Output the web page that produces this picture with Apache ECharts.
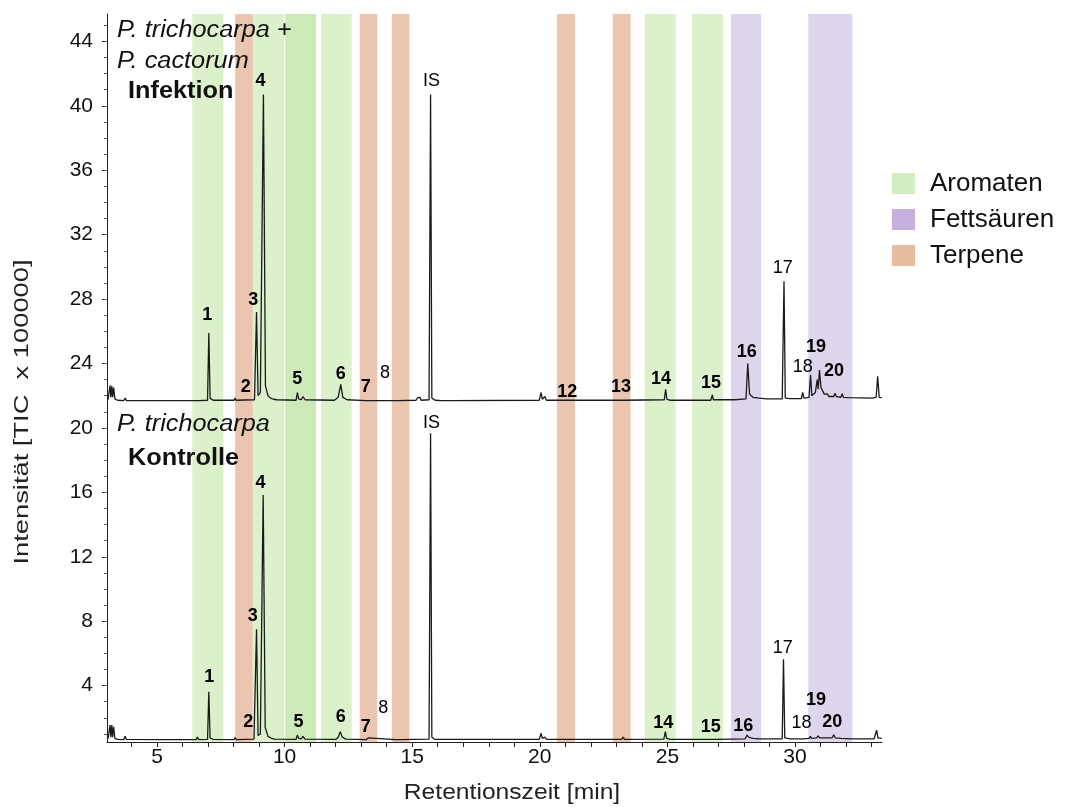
<!DOCTYPE html>
<html>
<head>
<meta charset="utf-8">
<title>GC-MS Chromatogramme</title>
<script src="https://cdn.jsdelivr.net/npm/echarts@6/dist/echarts.min.js"></script>
<style>
  html, body { margin: 0; padding: 0; background: #fff; }
  #chart { width: 1068px; height: 810px; }
</style>
</head>
<body>
<div id="chart"></div>
<script>
// Retention-time windows of the compound classes [start, end] in min
const aromatenBands = [[6.38, 7.6], [8.75, 9.99], [11.43, 12.63], [24.11, 25.32], [25.96, 27.18]];
const aromatenBandsDark = [[10.03, 11.23]];
const terpeneBands = [[8.06, 8.75], [12.94, 13.63], [14.2, 14.89], [20.67, 21.38], [22.86, 23.56]];
const fettsaeurenBands = [[27.49, 28.67], [30.52, 32.25]];

// Infected sample (P. trichocarpa + P. cactorum), plotted above the control: [time, intensity]
const infektionTrace = [
  [3.08, 21.75], [3.13, 21.8], [3.16, 22.65], [3.19, 21.9], [3.23, 22.6], [3.26, 21.9], [3.3, 22.5], [3.35, 21.8], [3.45, 21.72],
  [3.7, 21.7], [3.75, 21.85], [3.8, 21.7],
  [5.2, 21.7], [5.24, 21.8], [5.28, 21.7],
  [6.55, 21.7], [6.6, 21.78], [6.65, 21.7],
  [6.98, 21.72], [7.03, 25.9], [7.08, 21.85], [7.2, 21.72],
  [8.02, 21.72], [8.06, 21.85], [8.1, 21.72],
  [8.82, 21.75], [8.9, 27.2], [8.96, 22.0], [9.05, 22.2], [9.17, 40.7], [9.25, 22.6], [9.35, 22.0], [9.45, 21.85], [9.5, 21.95], [9.56, 21.78], [9.7, 21.75],
  [10.45, 21.72], [10.5, 22.2], [10.55, 21.8], [10.65, 21.75], [10.72, 21.95], [10.8, 21.75],
  [11.95, 21.72], [12.1, 21.9], [12.2, 22.7], [12.28, 21.9], [12.45, 21.75],
  [13.2, 21.7], [13.25, 21.82], [13.3, 21.7],
  [14.35, 21.7], [14.4, 21.8], [14.45, 21.7],
  [15.15, 21.72], [15.22, 21.88], [15.27, 21.8], [15.3, 21.9], [15.35, 21.72],
  [15.66, 21.75], [15.72, 40.7], [15.77, 21.85], [15.9, 21.72],
  [16.15, 21.7], [16.2, 21.8], [16.25, 21.7], [16.5, 21.7], [16.55, 21.8], [16.6, 21.7],
  [19.98, 21.72], [20.05, 22.2], [20.1, 21.78], [20.2, 21.95], [20.26, 21.72],
  [23.2, 21.72], [23.26, 21.83], [23.3, 21.72],
  [24.88, 21.75], [24.93, 22.4], [24.98, 21.78], [25.1, 21.72],
  [26.7, 21.72], [26.76, 22.05], [26.8, 21.75],
  [27.55, 21.75], [27.6, 21.85], [27.65, 21.75],
  [28.08, 21.8], [28.15, 24.0], [28.22, 22.1], [28.35, 21.9], [28.6, 21.85], [28.9, 21.8],
  [29.5, 21.8], [29.57, 29.1], [29.62, 21.85], [29.8, 21.82],
  [30.25, 21.82], [30.3, 22.2], [30.35, 21.85],
  [30.55, 21.9], [30.61, 23.3], [30.66, 22.0], [30.8, 22.2], [30.87, 23.0], [30.91, 22.4], [30.96, 23.6], [31.02, 22.5], [31.15, 22.1],
  [31.22, 21.98], [31.27, 22.12], [31.32, 21.95], [31.52, 21.95], [31.57, 22.15], [31.62, 21.95], [31.8, 21.9], [31.85, 22.12], [31.9, 21.9],
  [32.1, 21.88], [33.0, 21.85], [33.18, 21.9], [33.24, 23.2], [33.3, 21.9], [33.4, 21.88]
];

// Control sample (P. trichocarpa): [time, intensity]
const kontrolleTrace = [
  [3.08, 0.7], [3.13, 0.75], [3.16, 1.55], [3.19, 0.8], [3.23, 1.55], [3.26, 0.8], [3.3, 1.45], [3.35, 0.72], [3.45, 0.66],
  [3.7, 0.65], [3.75, 0.85], [3.8, 0.66],
  [5.2, 0.65], [5.24, 0.75], [5.28, 0.65],
  [6.53, 0.65], [6.58, 0.8], [6.63, 0.65],
  [6.98, 0.66], [7.03, 3.62], [7.08, 0.75], [7.2, 0.66],
  [8.02, 0.65], [8.06, 0.78], [8.1, 0.65],
  [8.8, 0.68], [8.9, 7.5], [8.96, 0.9], [9.05, 1.0], [9.16, 15.84], [9.24, 1.4], [9.35, 0.85], [9.5, 0.72], [9.55, 0.8], [9.6, 0.68],
  [10.45, 0.66], [10.5, 0.93], [10.56, 0.72], [10.65, 0.7], [10.72, 0.85], [10.8, 0.68],
  [12.0, 0.66], [12.1, 0.8], [12.18, 1.14], [12.26, 0.8], [12.4, 0.68],
  [13.2, 0.65], [13.28, 0.75], [13.35, 0.65],
  [14.35, 0.65], [14.42, 0.72], [14.5, 0.65],
  [15.66, 0.68], [15.72, 19.67], [15.77, 0.8], [15.9, 0.66],
  [16.1, 0.66], [16.15, 0.75], [16.2, 0.66], [16.4, 0.66], [16.45, 0.74], [16.5, 0.66],
  [19.98, 0.66], [20.05, 1.04], [20.1, 0.72], [20.2, 0.8], [20.26, 0.66],
  [23.2, 0.66], [23.27, 0.8], [23.32, 0.66],
  [24.86, 0.68], [24.92, 1.14], [24.97, 0.72], [25.1, 0.66],
  [26.3, 0.66], [26.35, 0.75], [26.4, 0.66], [26.7, 0.66], [26.75, 0.78], [26.8, 0.66],
  [27.5, 0.68], [27.55, 0.75], [27.6, 0.68],
  [28.05, 0.7], [28.12, 0.93], [28.2, 0.78], [28.35, 0.72], [28.6, 0.7],
  [29.5, 0.7], [29.55, 5.63], [29.6, 0.75], [29.8, 0.7],
  [30.22, 0.7], [30.27, 0.8], [30.32, 0.7], [30.55, 0.72], [30.6, 0.85], [30.65, 0.72], [30.85, 0.75], [30.9, 0.88], [30.97, 0.75],
  [31.45, 0.75], [31.52, 0.95], [31.58, 0.75], [31.7, 0.74], [31.75, 0.82], [31.8, 0.72], [32.2, 0.7],
  [33.1, 0.7], [33.15, 0.75], [33.2, 1.24], [33.25, 0.75], [33.4, 0.72]
];

// Peak annotations: [time, intensity, text, bold]
const infektionPeakLabels = [
  [6.97, 27.02, '1', true], [8.48, 22.53, '2', true], [8.77, 27.95, '3', true], [9.06, 41.51, '4', true],
  [10.50, 23.04, '5', true], [12.20, 23.35, '6', true], [13.18, 22.57, '7', true], [13.93, 23.40, '8', false],
  [15.76, 41.51, 'IS', false], [21.08, 22.25, '12', true], [23.18, 22.57, '13', true], [24.75, 23.04, '14', true],
  [26.71, 22.81, '15', true], [28.11, 24.74, '16', true], [29.52, 29.92, '17', false], [30.30, 23.77, '18', false],
  [30.82, 25.05, '19', true], [31.53, 23.56, '20', true]
];
const kontrollePeakLabels = [
  [7.05, 4.55, '1', true], [8.58, 1.72, '2', true], [8.75, 8.32, '3', true], [9.06, 16.60, '4', true],
  [10.54, 1.72, '5', true], [12.20, 2.07, '6', true], [13.18, 1.41, '7', true], [13.87, 2.59, '8', false],
  [15.76, 20.29, 'IS', false], [24.84, 1.66, '14', true], [26.70, 1.45, '15', true], [27.97, 1.49, '16', true],
  [29.52, 6.32, '17', false], [30.26, 1.66, '18', false], [30.82, 3.11, '19', true], [31.46, 1.76, '20', true]
];

// Axis ticks and labels
const xTickLabels = [5, 10, 15, 20, 25, 30];
const xTicks = [4, 5, 6, 7, 8, 9, 10, 11, 12, 13, 14, 15, 16, 17, 18, 19, 20, 21, 22, 23, 24, 25, 26, 27, 28, 29, 30, 31, 32, 33];
const yTickLabels = [4, 8, 12, 16, 20, 24, 28, 32, 36, 40, 44];
const yMinorTicks = [1, 2, 3, 4, 5, 6, 7, 8, 9, 10, 11, 12, 13, 14, 15, 16, 17, 18, 19, 20, 21, 22, 23, 24, 25, 26, 27, 28, 29, 30,
  31, 32, 33, 34, 35, 36, 37, 38, 39, 40, 41, 42, 43, 44, 45];

const FONT = '"Liberation Sans", Arial, Helvetica, sans-serif';
const colors = {
  aromaten: '#d3edc3', aromatenBand: '#dbf0cb', aromatenBandDark: '#cde9b8',
  fett: '#c6b1de', fettBand: '#ddd5eb',
  terp: '#e8bc9f', terpBand: '#eac6b0'
};

function bandAreas(list, color) {
  return list.map(b => [{ xAxis: b[0], itemStyle: { color: color } }, { xAxis: b[1] }]);
}
function labelItems(list) {
  return list.map(l => ({
    value: [l[0], l[1]],
    name: l[2],
    label: { fontWeight: l[3] ? 'bold' : 'normal', fontSize: 18 }
  }));
}

const chart = echarts.init(document.getElementById('chart'), null, { renderer: 'canvas' });

const option = {
  animation: false,
  backgroundColor: '#ffffff',
  grid: { left: 107, right: 186, top: 14, bottom: 68, containLabel: false },
  legend: {
    data: ['Aromaten', 'Fettsäuren', 'Terpene'],
    orient: 'vertical',
    left: 892,
    top: 170,
    padding: 0,
    icon: 'rect',
    itemWidth: 23,
    itemHeight: 21,
    itemGap: 9,
    selectedMode: false,
    textStyle: { fontSize: 26, color: '#111', fontFamily: FONT, lineHeight: 27, padding: [0, 0, 0, 10] }
  },
  xAxis: {
    type: 'value',
    min: 3.04,
    max: 33.41,
    splitLine: { show: false },
    axisLine: { lineStyle: { color: '#222', width: 1 } },
    axisTick: { show: true, customValues: xTicks, length: 5, lineStyle: { color: '#222' } },
    axisLabel: { customValues: xTickLabels, fontSize: 21, color: '#111', fontFamily: FONT, margin: 5 }
  },
  yAxis: [
    {
      type: 'value',
      min: 0.5,
      max: 45.7,
      splitLine: { show: false },
      axisLine: { show: true, lineStyle: { color: '#222', width: 1 } },
      axisTick: { show: true, customValues: yTickLabels, length: 5, lineStyle: { color: '#222' } },
      axisLabel: { customValues: yTickLabels, fontSize: 21, color: '#111', fontFamily: FONT, margin: 14 }
    },
    {
      type: 'value',
      min: 0.5,
      max: 45.7,
      position: 'left',
      splitLine: { show: false },
      axisLine: { show: false },
      axisTick: { show: true, customValues: yMinorTicks, length: 3, lineStyle: { color: '#555' } },
      axisLabel: { show: false }
    }
  ],
  series: [
    {
      name: 'Aromaten', type: 'line', data: [], z: 1,
      itemStyle: { color: colors.aromaten },
      markArea: { silent: true, data: bandAreas(aromatenBands, colors.aromatenBand).concat(bandAreas(aromatenBandsDark, colors.aromatenBandDark)) }
    },
    {
      name: 'Fettsäuren', type: 'line', data: [], z: 1,
      itemStyle: { color: colors.fett },
      markArea: { silent: true, data: bandAreas(fettsaeurenBands, colors.fettBand) }
    },
    {
      name: 'Terpene', type: 'line', data: [], z: 1,
      itemStyle: { color: colors.terp },
      markArea: { silent: true, data: bandAreas(terpeneBands, colors.terpBand) }
    },
    {
      name: 'Infektion', type: 'line', data: infektionTrace, z: 3,
      showSymbol: false, symbol: 'none',
      lineStyle: { color: '#1a1a1a', width: 1.3 }
    },
    {
      name: 'Kontrolle', type: 'line', data: kontrolleTrace, z: 3,
      showSymbol: false, symbol: 'none',
      lineStyle: { color: '#1a1a1a', width: 1.3 }
    },
    {
      name: 'Peaks', type: 'scatter', z: 4, symbolSize: 1,
      itemStyle: { color: 'rgba(0,0,0,0)' },
      silent: true,
      label: {
        show: true, position: 'inside', formatter: '{b}', color: '#000', fontFamily: FONT,
        textBorderWidth: 0, opacity: 1
      },
      data: labelItems(infektionPeakLabels).concat(labelItems(kontrollePeakLabels))
    }
  ],
  graphic: [
    { type: 'text', x: 117, y: 31, scaleX: 1.1, z: 10,
      style: { text: 'P. trichocarpa +', font: 'italic 23px ' + FONT, fill: '#111', textVerticalAlign: 'middle' } },
    { type: 'text', x: 117, y: 62, scaleX: 1.1, z: 10,
      style: { text: 'P. cactorum', font: 'italic 23px ' + FONT, fill: '#111', textVerticalAlign: 'middle' } },
    { type: 'text', x: 128, y: 92, scaleX: 1.1, z: 10,
      style: { text: 'Infektion', font: 'bold 23px ' + FONT, fill: '#111', textVerticalAlign: 'middle' } },
    { type: 'text', x: 117, y: 425, scaleX: 1.1, z: 10,
      style: { text: 'P. trichocarpa', font: 'italic 23px ' + FONT, fill: '#111', textVerticalAlign: 'middle' } },
    { type: 'text', x: 128, y: 459, scaleX: 1.1, z: 10,
      style: { text: 'Kontrolle', font: 'bold 23px ' + FONT, fill: '#111', textVerticalAlign: 'middle' } },
    { type: 'text', x: 22, y: 412, rotation: Math.PI / 2, scaleX: 1.3, z: 10,
      style: { text: 'Intensität [TIC  x 100000]', font: '21px ' + FONT, fill: '#222', textAlign: 'center', textVerticalAlign: 'middle' } },
    { type: 'text', x: 512, y: 793, scaleX: 1.12, z: 10,
      style: { text: 'Retentionszeit [min]', font: '22px ' + FONT, fill: '#222', textAlign: 'center', textVerticalAlign: 'middle' } }
  ]
};

chart.setOption(option);
</script>
</body>
</html>
